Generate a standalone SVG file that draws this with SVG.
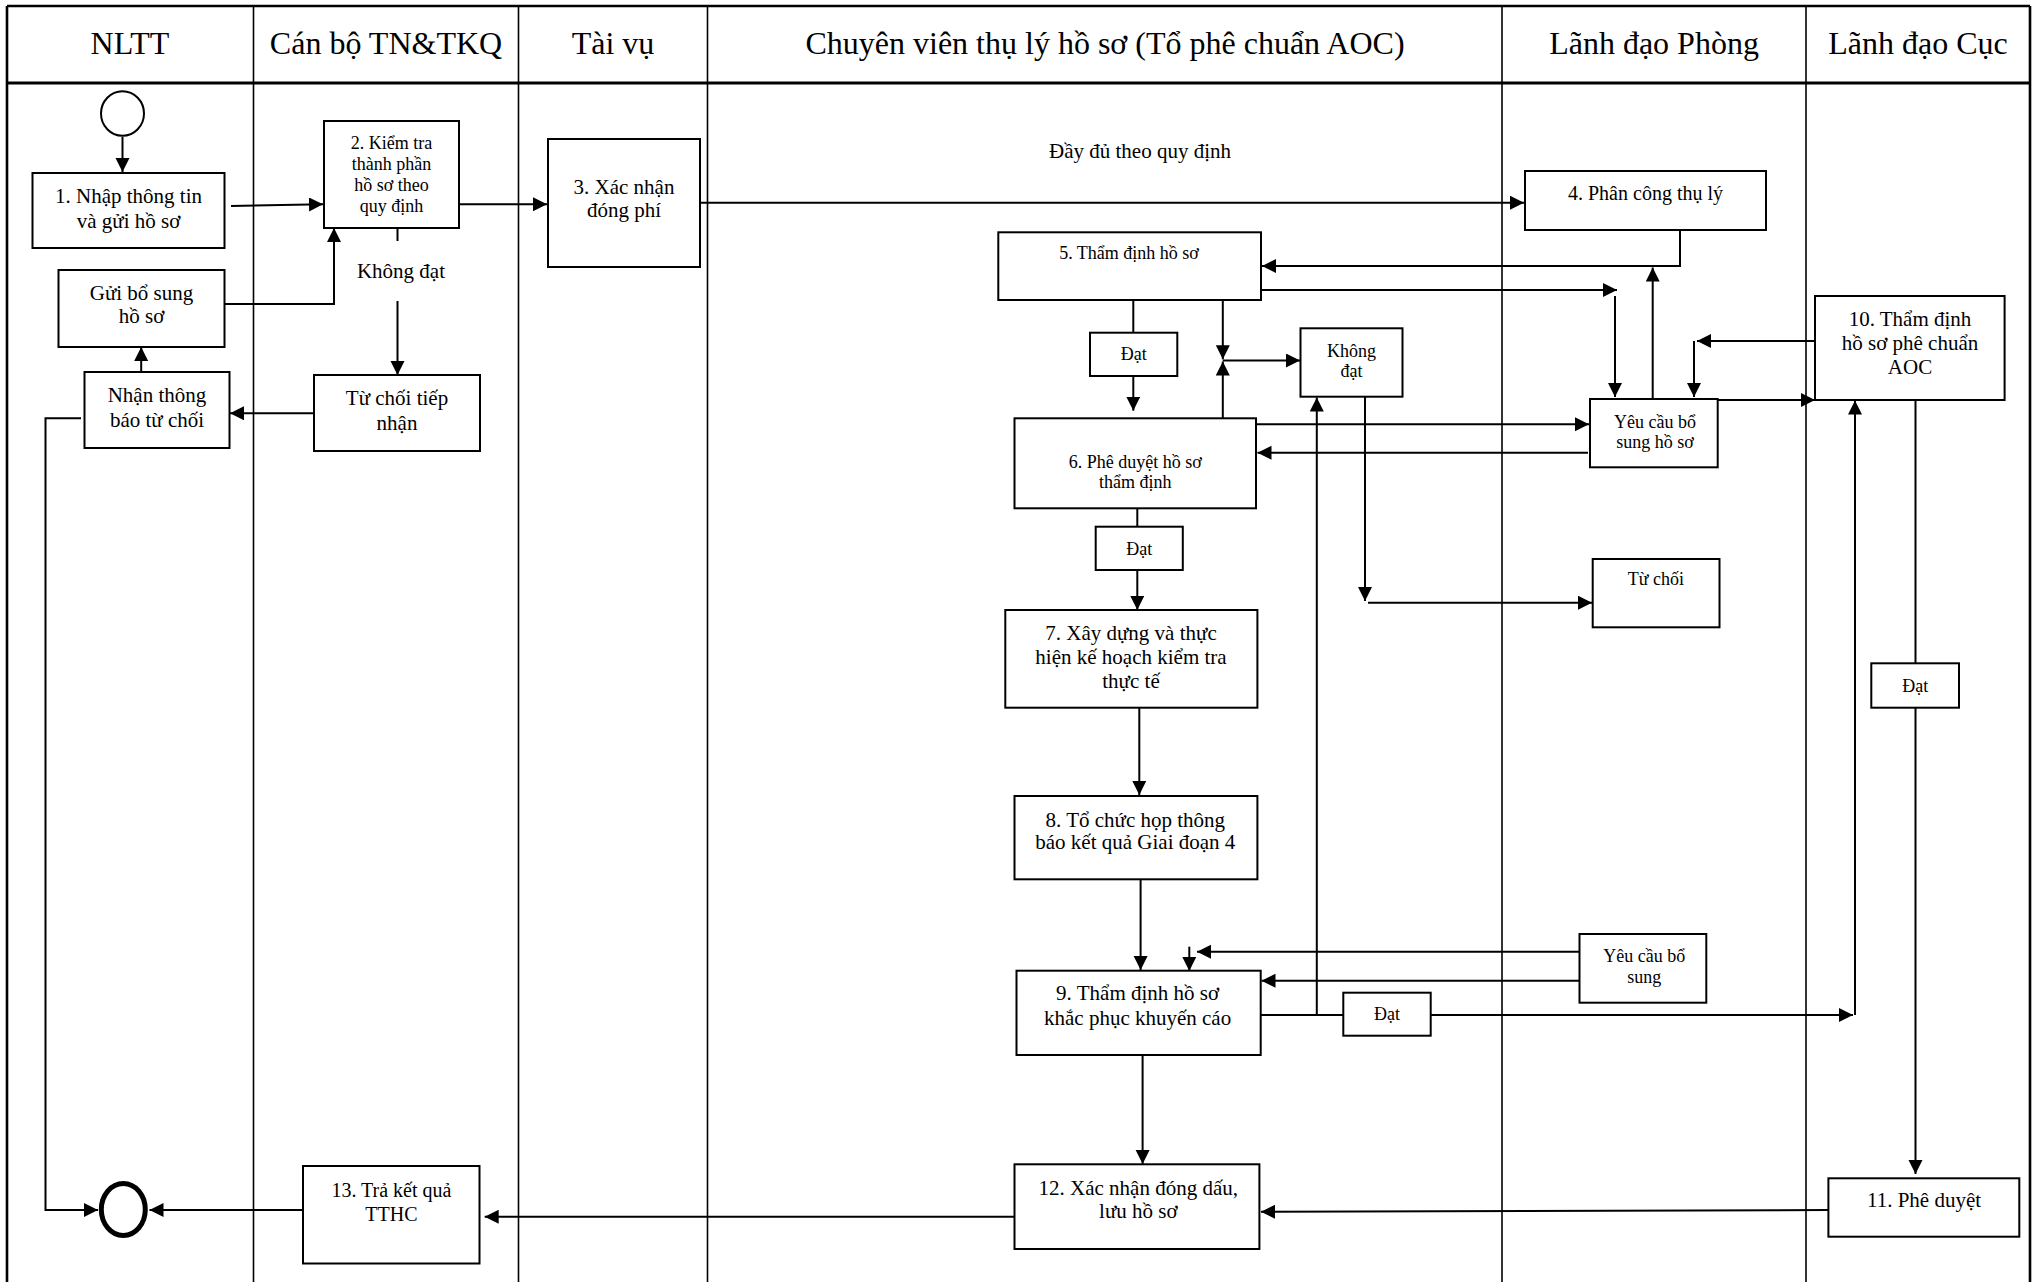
<svg xmlns="http://www.w3.org/2000/svg" width="2037" height="1282" viewBox="0 0 2037 1282">
<defs>
<marker id="ah" markerUnits="userSpaceOnUse" markerWidth="15" markerHeight="15" refX="14" refY="7" orient="auto"><path d="M0,0 L14,7 L0,14 z" fill="#000"/></marker>
<style>
.lane{stroke:#000;stroke-width:1.6;fill:none}
.frame{stroke:#000;stroke-width:2.6;fill:none}
.box{fill:#fff;stroke:#000;stroke-width:2}
.c{fill:none;stroke:#000;stroke-width:2}
.a{marker-end:url(#ah)}
text{font-family:"Liberation Serif","Times New Roman",serif;fill:#000;text-anchor:middle}
.h{font-size:32px}
.t21{font-size:21px}
.t20{font-size:20px}
.t18{font-size:18px}
</style>
</defs>
<rect width="2037" height="1282" fill="#fff"/>
<g id="lanes">
<line class="frame" x1="7" y1="6" x2="2030" y2="6"/>
<line class="frame" x1="7" y1="83" x2="2030" y2="83" style="stroke-width:3"/>
<line class="frame" x1="7" y1="6" x2="7" y2="1282"/>
<line class="frame" x1="2030" y1="6" x2="2030" y2="1282"/>
<line class="lane" x1="253.5" y1="6" x2="253.5" y2="1282"/>
<line class="lane" x1="518.5" y1="6" x2="518.5" y2="1282"/>
<line class="lane" x1="707.5" y1="6" x2="707.5" y2="1282"/>
<line class="lane" x1="1502" y1="6" x2="1502" y2="1282"/>
<line class="lane" x1="1806" y1="6" x2="1806" y2="1282"/>
<text class="h" x="130" y="54">NLTT</text>
<text class="h" x="386" y="54">Cán bộ TN&amp;TKQ</text>
<text class="h" x="613" y="54">Tài vụ</text>
<text class="h" x="1105" y="54">Chuyên viên thụ lý hồ sơ (Tổ phê chuẩn AOC)</text>
<text class="h" x="1654" y="54">Lãnh đạo Phòng</text>
<text class="h" x="1918" y="54">Lãnh đạo Cục</text>
</g>
<g id="connectors">
<path class="c a" d="M122.5,137 V172"/>
<path class="c a" d="M231,206 L323,204.3"/>
<path class="c a" d="M459,204.3 H547"/>
<path class="c a" d="M700,202.7 H1524"/>
<path class="c" d="M397.5,228 V241"/>
<path class="c a" d="M397.5,301 V375"/>
<path class="c a" d="M224.5,304 H334 V228"/>
<path class="c a" d="M141.2,372 V347"/>
<path class="c a" d="M314,413.3 H230"/>
<path class="c a" d="M81,418.3 H45.5 V1210 H98"/>
<path class="c a" d="M303,1210 H149.5"/>
<path class="c a" d="M1014.5,1216.7 H484.7"/>
<path class="c a" d="M1680,230 V266 H1262"/>
<path class="c a" d="M1261,290 H1617"/>
<path class="c a" d="M1615,296 V397"/>
<path class="c a" d="M1652.7,398 V267.5"/>
<path class="c a" d="M1815,341 H1697"/>
<path class="c a" d="M1694,341 V397"/>
<path class="c a" d="M1717,400 H1815"/>
<path class="c a" d="M1257,424.3 H1589"/>
<path class="c a" d="M1588,452.7 H1257.5"/>
<path class="c" d="M1133.3,300 V332.7"/>
<path class="c a" d="M1133.3,376 V410.7"/>
<path class="c a" d="M1222.8,300 V359.3"/>
<path class="c a" d="M1222.8,418.3 V361.5"/>
<path class="c a" d="M1222.8,360.5 H1300"/>
<path class="c a" d="M1365,396.7 V601"/>
<path class="c a" d="M1368,602.7 H1592"/>
<path class="c" d="M1137.3,508.3 V526.7"/>
<path class="c a" d="M1137.3,570 V610"/>
<path class="c a" d="M1139.3,708 V795"/>
<path class="c a" d="M1140.6,880 V970"/>
<path class="c a" d="M1142.6,1055 V1164"/>
<path class="c a" d="M1579.5,951.7 H1197"/>
<path class="c a" d="M1189.3,946.7 V971"/>
<path class="c a" d="M1579.5,980.7 H1261.5"/>
<path class="c" d="M1260.7,1015 H1343.3"/>
<path class="c a" d="M1430.7,1015 H1853"/>
<path class="c a" d="M1855,1015 V400.5"/>
<path class="c a" d="M1316.8,1015 V397.5"/>
<path class="c" d="M1915.5,400 V663.3"/>
<path class="c a" d="M1915.5,707.7 V1174"/>
<path class="c a" d="M1828.4,1210 L1261,1211.7"/>
<text class="t21" x="1140" y="158">Đầy đủ theo quy định</text>
<text class="t21" x="401" y="278">Không đạt</text>
</g>
<g id="start"><ellipse cx="122.5" cy="113.5" rx="21.5" ry="22.3" fill="#fff" stroke="#000" stroke-width="2"/></g>
<g id="end"><ellipse cx="123.3" cy="1209.5" rx="22" ry="26" fill="#fff" stroke="#000" stroke-width="5"/></g>
<g id="n1"><rect class="box" x="32.5" y="173" width="192" height="75"/><text class="t21" x="128.5" y="203">1. Nhập thông tin</text><text class="t21" x="128.5" y="228">và gửi hồ sơ</text></g>
<g id="n2"><rect class="box" x="324" y="121" width="135" height="107"/><text class="t18" x="391.5" y="149">2. Kiểm tra</text><text class="t18" x="391.5" y="170">thành phần</text><text class="t18" x="391.5" y="191">hồ sơ theo</text><text class="t18" x="391.5" y="212">quy định</text></g>
<g id="n3"><rect class="box" x="548" y="139" width="152" height="128"/><text class="t21" x="624" y="194">3. Xác nhận</text><text class="t21" x="624" y="217">đóng phí</text></g>
<g id="n-guibosung"><rect class="box" x="58.5" y="270" width="166" height="77"/><text class="t21" x="141.5" y="300">Gửi bổ sung</text><text class="t21" x="141.5" y="323">hồ sơ</text></g>
<g id="n-nhanthongbao"><rect class="box" x="84.5" y="372" width="145" height="76"/><text class="t21" x="157" y="401.7">Nhận thông</text><text class="t21" x="157" y="426.7">báo từ chối</text></g>
<g id="n-tuchoitiepnhan"><rect class="box" x="314" y="375" width="166" height="76"/><text class="t21" x="397" y="405">Từ chối tiếp</text><text class="t21" x="397" y="430">nhận</text></g>
<g id="n13"><rect class="box" x="303" y="1166" width="176.5" height="97.5"/><text class="t20" x="391.4" y="1196.7">13. Trả kết quả</text><text class="t20" x="391.4" y="1220.7">TTHC</text></g>
<g id="n4"><rect class="box" x="1525" y="171" width="241" height="59"/><text class="t20" x="1645.5" y="200">4. Phân công thụ lý</text></g>
<g id="n5"><rect class="box" x="998.3" y="232.3" width="262.7" height="67.7"/><text class="t18" x="1129" y="259.3">5. Thẩm định hồ sơ</text></g>
<g id="dat1"><rect class="box" x="1090" y="332.7" width="87.3" height="43.3"/><text class="t18" x="1133.7" y="360">Đạt</text></g>
<g id="khongdat"><rect class="box" x="1300.5" y="328.3" width="102" height="68.4"/><text class="t18" x="1351.5" y="356.7">Không</text><text class="t18" x="1351.5" y="376.7">đạt</text></g>
<g id="yeucau1"><rect class="box" x="1590" y="399" width="127.7" height="68.3"/><text class="t18" x="1655" y="428.3">Yêu cầu bổ</text><text class="t18" x="1655" y="448.3">sung hồ sơ</text></g>
<g id="n10"><rect class="box" x="1815" y="296" width="189.6" height="104"/><text class="t21" x="1910" y="326">10. Thẩm định</text><text class="t21" x="1910" y="350">hồ sơ phê chuẩn</text><text class="t21" x="1910" y="374">AOC</text></g>
<g id="n6"><rect class="box" x="1014.5" y="418.3" width="241.5" height="90"/><text class="t18" x="1135.3" y="468.3">6. Phê duyệt hồ sơ</text><text class="t18" x="1135.3" y="488.3">thẩm định</text></g>
<g id="dat2"><rect class="box" x="1095.7" y="526.7" width="87.1" height="43.3"/><text class="t18" x="1139.2" y="555">Đạt</text></g>
<g id="tuchoi"><rect class="box" x="1592.7" y="559" width="126.8" height="68.3"/><text class="t18" x="1655.8" y="585">Từ chối</text></g>
<g id="n7"><rect class="box" x="1005.3" y="610" width="252.1" height="97.7"/><text class="t21" x="1131" y="640">7. Xây dựng và thực</text><text class="t21" x="1131" y="664">hiện kế hoạch kiểm tra</text><text class="t21" x="1131" y="688">thực tế</text></g>
<g id="dat4"><rect class="box" x="1871.3" y="663.3" width="87.7" height="44.4"/><text class="t18" x="1915.2" y="691.7">Đạt</text></g>
<g id="n8"><rect class="box" x="1014.5" y="796" width="242.9" height="83.3"/><text class="t21" x="1135.3" y="826.7">8. Tổ chức họp thông</text><text class="t21" x="1135.3" y="849">báo kết quả Giai đoạn 4</text></g>
<g id="yeucau2"><rect class="box" x="1579.5" y="934" width="126.8" height="68.7"/><text class="t18" x="1644.2" y="961.7">Yêu cầu bổ</text><text class="t18" x="1644.2" y="983.3">sung</text></g>
<g id="n9"><rect class="box" x="1016.5" y="970.7" width="244.2" height="84.3"/><text class="t21" x="1137.6" y="1000">9. Thẩm định hồ sơ</text><text class="t21" x="1137.6" y="1025">khắc phục khuyến cáo</text></g>
<g id="dat3"><rect class="box" x="1343.3" y="992.7" width="87.4" height="43"/><text class="t18" x="1387" y="1020">Đạt</text></g>
<g id="n12"><rect class="box" x="1014.5" y="1164.3" width="244.9" height="84.7"/><text class="t21" x="1138.3" y="1195">12. Xác nhận đóng dấu,</text><text class="t21" x="1138.3" y="1218.3">lưu hồ sơ</text></g>
<g id="n11"><rect class="box" x="1828.4" y="1178.3" width="190.9" height="58.4"/><text class="t21" x="1924" y="1206.7">11. Phê duyệt</text></g>
</svg>
